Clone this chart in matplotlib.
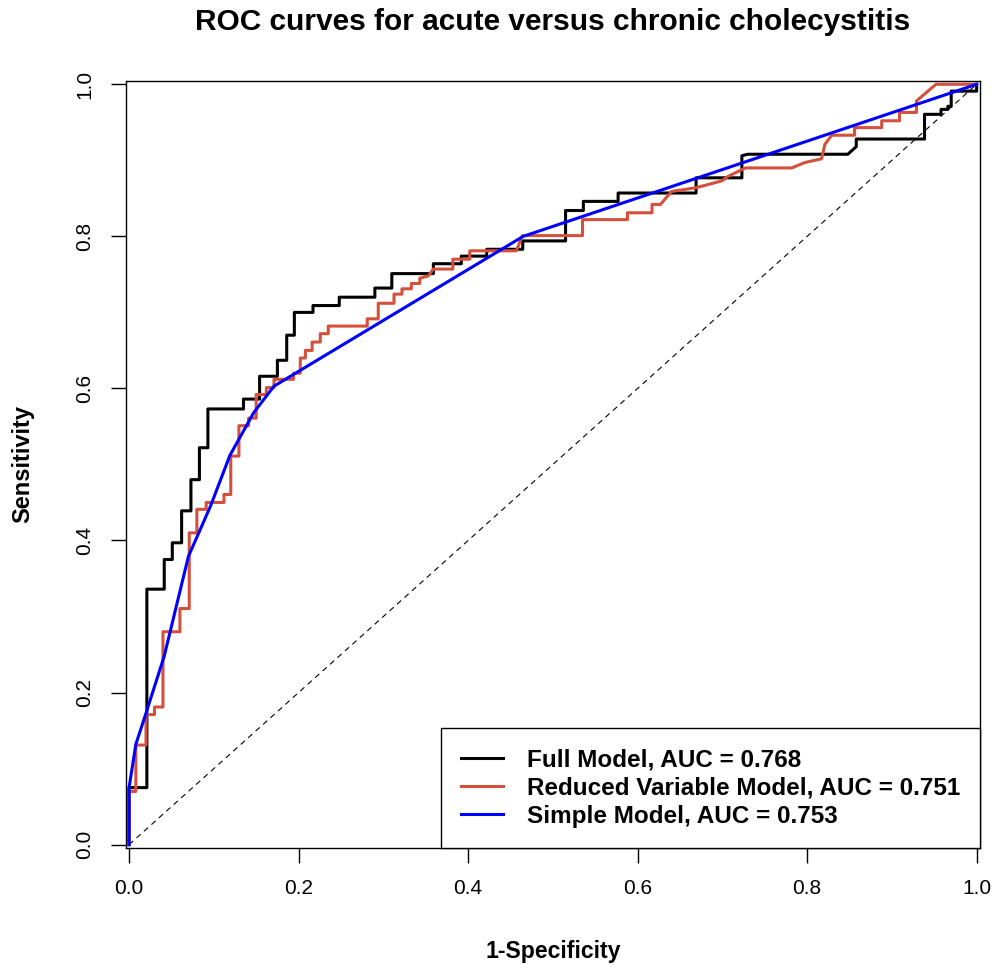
import matplotlib
matplotlib.use('Agg')
import matplotlib.pyplot as plt

# Full Model (step ROC curve, 1-specificity / sensitivity)
full_fpr = [0, 0, 0.021, 0.021, 0.0415, 0.0415, 0.051, 0.051, 0.062, 0.062, 0.073, 0.073,
            0.083, 0.083, 0.093, 0.093, 0.135, 0.135, 0.154, 0.154, 0.175, 0.175, 0.186, 0.186,
            0.195, 0.195, 0.217, 0.217, 0.248, 0.248, 0.290, 0.290, 0.310, 0.310, 0.359, 0.359,
            0.392, 0.392, 0.422, 0.422, 0.4645, 0.4645, 0.515, 0.515, 0.536, 0.536, 0.577, 0.577,
            0.669, 0.669, 0.723, 0.723, 0.730, 0.848, 0.858, 0.858, 0.9385, 0.9385, 0.958, 0.958,
            0.966, 0.966, 0.970, 0.970, 1.0, 1.0]
full_tpr = [0, 0.075, 0.075, 0.336, 0.336, 0.375, 0.375, 0.397, 0.397, 0.439, 0.439, 0.480,
            0.480, 0.522, 0.522, 0.573, 0.573, 0.586, 0.586, 0.616, 0.616, 0.637, 0.637, 0.670,
            0.670, 0.700, 0.700, 0.709, 0.709, 0.720, 0.720, 0.732, 0.732, 0.751, 0.751, 0.764,
            0.764, 0.774, 0.774, 0.783, 0.783, 0.794, 0.794, 0.834, 0.834, 0.846, 0.846, 0.857,
            0.857, 0.877, 0.877, 0.906, 0.908, 0.908, 0.918, 0.928, 0.928, 0.9605, 0.9605, 0.967,
            0.967, 0.971, 0.971, 0.991, 0.991, 1.0]

# Reduced Variable Model
red_fpr = [0, 0, 0.008, 0.008, 0.020, 0.020, 0.030, 0.030, 0.040, 0.040, 0.060, 0.060,
           0.071, 0.071, 0.080, 0.080, 0.091, 0.091, 0.112, 0.112, 0.120, 0.120, 0.1296, 0.1296,
           0.141, 0.141, 0.150, 0.150, 0.162, 0.162, 0.171, 0.171, 0.194, 0.194, 0.202, 0.202,
           0.208, 0.208, 0.216, 0.216, 0.2256, 0.2256, 0.235, 0.235, 0.281, 0.281, 0.294, 0.294,
           0.3126, 0.3126, 0.322, 0.322, 0.333, 0.333, 0.343, 0.343, 0.353, 0.359, 0.382, 0.382,
           0.402, 0.402, 0.457, 0.464, 0.535, 0.535, 0.588, 0.588, 0.617, 0.617, 0.627, 0.640,
           0.669, 0.6995, 0.707, 0.727, 0.782, 0.797, 0.817, 0.821, 0.829, 0.856, 0.856, 0.888,
           0.888, 0.909, 0.909, 0.929, 0.929, 0.952, 1.0]
red_tpr = [0, 0.070, 0.070, 0.131, 0.131, 0.171, 0.171, 0.181, 0.181, 0.280, 0.280, 0.3105,
           0.3105, 0.410, 0.410, 0.441, 0.441, 0.450, 0.450, 0.4605, 0.4605, 0.511, 0.511, 0.551,
           0.551, 0.561, 0.561, 0.592, 0.592, 0.601, 0.601, 0.612, 0.612, 0.620, 0.620, 0.640,
           0.640, 0.650, 0.650, 0.661, 0.661, 0.672, 0.672, 0.682, 0.682, 0.6915, 0.6915, 0.712,
           0.712, 0.724, 0.724, 0.731, 0.731, 0.738, 0.738, 0.745, 0.748, 0.757, 0.757, 0.770,
           0.770, 0.781, 0.781, 0.801, 0.801, 0.822, 0.822, 0.831, 0.831, 0.842, 0.842, 0.859,
           0.864, 0.873, 0.879, 0.890, 0.890, 0.897, 0.902, 0.921, 0.933, 0.933, 0.943, 0.943,
           0.952, 0.952, 0.963, 0.963, 0.978, 1.0, 1.0]

# Simple Model
simple_fpr = [0, 0, 0.008, 0.020, 0.0415, 0.070, 0.096, 0.119, 0.147, 0.171, 0.465, 1.0]
simple_tpr = [0, 0.075, 0.132, 0.173, 0.248, 0.379, 0.445, 0.512, 0.568, 0.603, 0.800, 1.0]

labels = ['Full Model, AUC = 0.768',
          'Reduced Variable Model, AUC = 0.751',
          'Simple Model, AUC = 0.753']
colors = ['black', '#d4503c', '#0000ff']

ticks = [0.0, 0.2, 0.4, 0.6, 0.8, 1.0]

plt.rcParams['font.family'] = ['Liberation Sans', 'DejaVu Sans']

fig = plt.figure(figsize=(10.03, 9.73), dpi=100)
ax = fig.add_axes([0.1253, 0.1288, 0.8518, 0.7877])

ax.plot([0, 1], [0, 1], color='black', lw=0.8, ls=(0, (5, 4)))
ax.plot(full_fpr, full_tpr, color=colors[0], lw=2.2, label=labels[0])
ax.plot(red_fpr, red_tpr, color=colors[1], lw=2.2, label=labels[1])
ax.plot(simple_fpr, simple_tpr, color=colors[2], lw=2.2, label=labels[2])

ax.set_xlim(-0.004, 1.004)
ax.set_ylim(-0.004, 1.004)
ax.set_xticks(ticks)
ax.set_yticks(ticks)
ax.set_xticklabels([f'{t:.1f}' for t in ticks], fontsize=15)
ax.set_yticklabels([f'{t:.1f}' for t in ticks], fontsize=15, rotation=90, va='center')
ax.tick_params(direction='out', length=10.5, width=1, pad=12)
for s in ax.spines.values():
    s.set_linewidth(1)

fig.text(0.5513, 0.977, 'ROC curves for acute versus chronic cholecystitis',
         fontsize=21.5, fontweight='bold', ha='center', va='center')
ax.set_xlabel('1-Specificity', fontsize=16.6, fontweight='bold', va='center')
ax.set_ylabel('Sensitivity', fontsize=17, fontweight='bold', va='center')
ax.xaxis.set_label_coords(0.5, -0.135)
ax.yaxis.set_label_coords(-0.121, 0.5)

leg = ax.legend(loc='lower right', borderaxespad=0, fancybox=False,
                edgecolor='black', framealpha=1, prop={'weight': 'bold', 'size': 17.5},
                handlelength=1.72, handletextpad=1.0, labelspacing=0.22,
                borderpad=0.82)
leg.get_frame().set_linewidth(1)

fig.savefig('out.png', dpi=100)
